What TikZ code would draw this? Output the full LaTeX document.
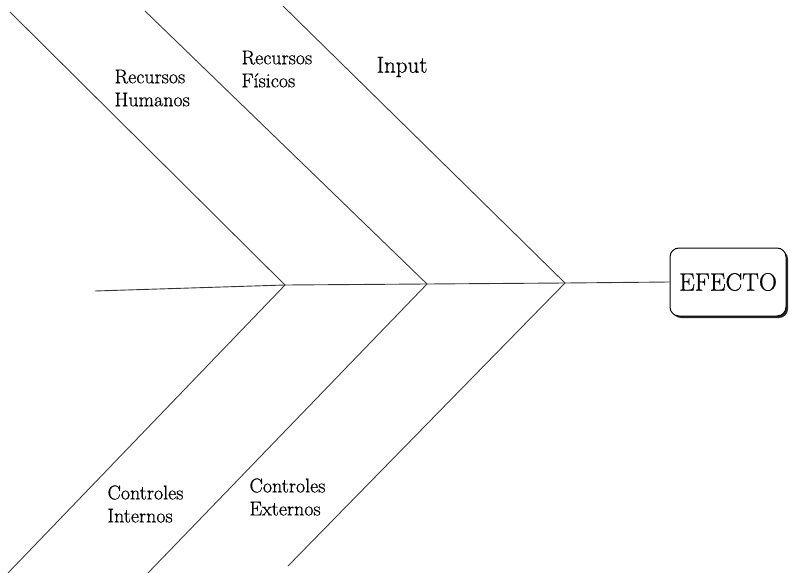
\documentclass[tikz,border=0pt]{standalone}
\usepackage{fontspec}
\newfontfamily\gruesa{Latin Modern Roman}[FakeBold=0.7]
\usetikzlibrary{shadows}
\tikzset{
  bone/.style={black!80,line width=.9pt},
  causa/.style={anchor=west,align=left,font=\gruesa\fontsize{20}{23}\selectfont},
  efectobox/.style={draw,line width=1pt,rounded corners=9pt,minimum width=116pt,minimum height=68pt,
    font=\gruesa\fontsize{25}{27}\selectfont,fill=white,
    drop shadow={shadow xshift=2pt,shadow yshift=-2pt,opacity=1,fill=black!85}}
}
\begin{document}
\begin{tikzpicture}[x=1pt,y=-1pt]
\useasboundingbox (0,0) rectangle (790,573);
% espina
\coordinate (cola) at (95,291);
\coordinate (j1) at (285,285);\coordinate (j2) at (427,284);\coordinate (j3) at (565,283);
\node[efectobox] (efecto) at (728,282) {EFECTO};
\draw[bone] (cola)--(j1)--(j2)--(j3)--(efecto.west);
% espinas superiores e inferiores
\coordinate (s1) at (10,12);\coordinate (s2) at (145,11);\coordinate (s3) at (283,6);
\coordinate (i1) at (8,573);\coordinate (i2) at (148,573);\coordinate (i3) at (288,566);
\draw[bone] (s1)--(j1)--(i1);
\draw[bone] (s2)--(j2)--(i2);
\draw[bone] (s3)--(j3)--(i3);
% causas
\node[causa] (rh) at (111,88) {Recursos\\Humanos};
\node[causa] (rf) at (238,69) {Recursos\\Físicos};
\node[causa,font=\gruesa\fontsize{23}{25}\selectfont] (inp) at (373,67) {Input};
\node[causa] (ci) at (104,504) {Controles\\Internos};
\node[causa] (ce) at (246,497) {Controles\\Externos};
\end{tikzpicture}
\end{document}
